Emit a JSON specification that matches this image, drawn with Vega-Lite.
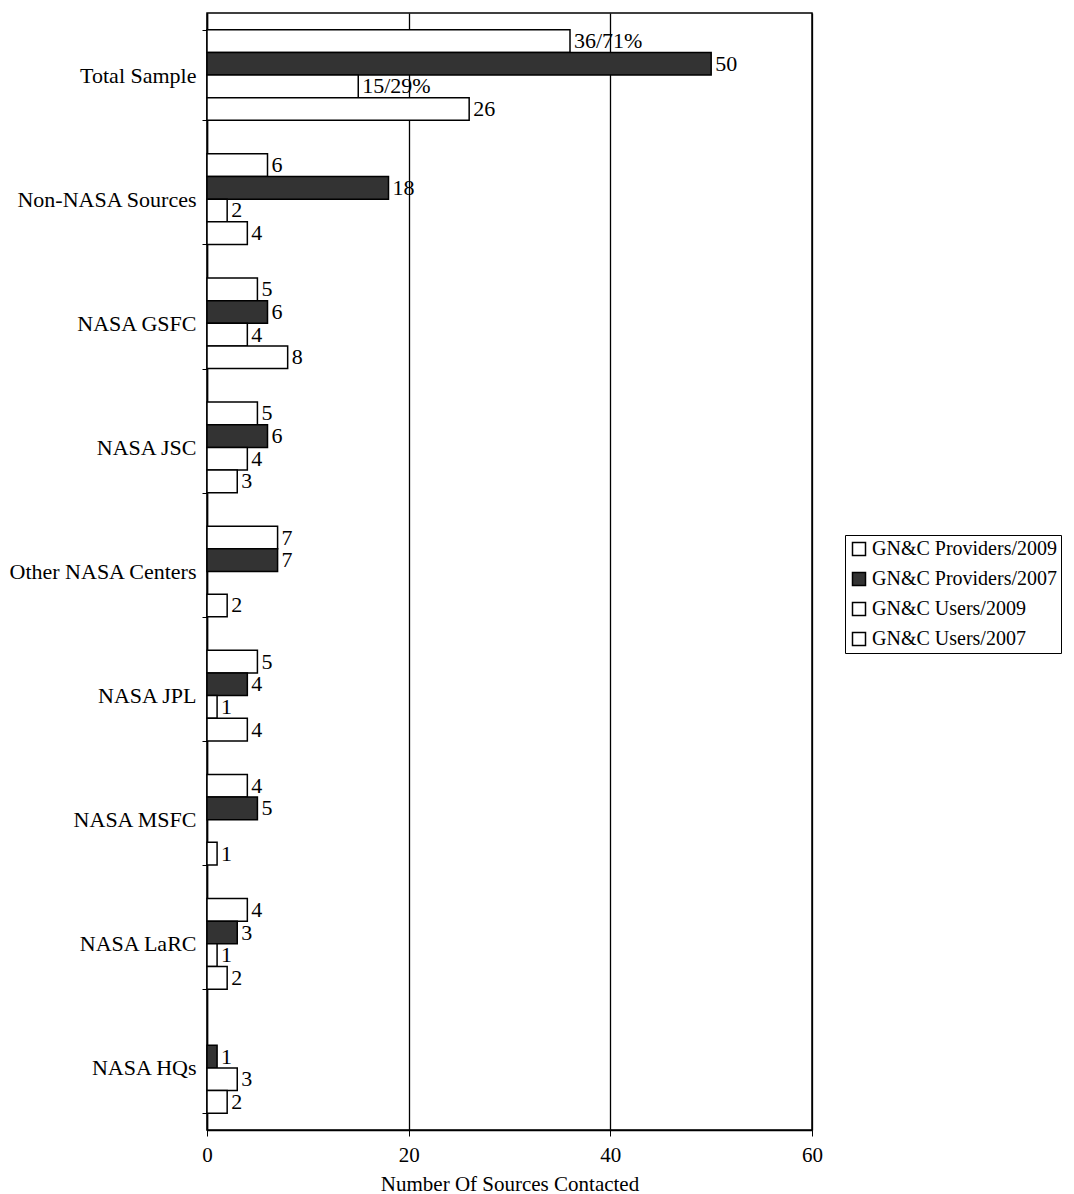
{
  "$schema": "https://vega.github.io/schema/vega-lite/v6.json",
  "width": 605,
  "height": 1117,
  "autosize": {"type": "none"},
  "padding": {"left": 207, "top": 13, "right": 262, "bottom": 64},
  "background": "white",
  "config": {
    "font": "Liberation Serif",
    "view": {"stroke": "black", "strokeWidth": 1.5},
    "axis": {"labelColor": "black", "titleColor": "black", "domainColor": "black", "tickColor": "black", "titleFontWeight": "normal"}
  },
  "data": {
    "values": [
      {"cat": "Total Sample", "series": "GN&C Providers/2009", "value": 36, "label": "36/71%"},
      {"cat": "Total Sample", "series": "GN&C Providers/2007", "value": 50, "label": "50"},
      {"cat": "Total Sample", "series": "GN&C Users/2009", "value": 15, "label": "15/29%"},
      {"cat": "Total Sample", "series": "GN&C Users/2007", "value": 26, "label": "26"},
      {"cat": "Non-NASA Sources", "series": "GN&C Providers/2009", "value": 6, "label": "6"},
      {"cat": "Non-NASA Sources", "series": "GN&C Providers/2007", "value": 18, "label": "18"},
      {"cat": "Non-NASA Sources", "series": "GN&C Users/2009", "value": 2, "label": "2"},
      {"cat": "Non-NASA Sources", "series": "GN&C Users/2007", "value": 4, "label": "4"},
      {"cat": "NASA GSFC", "series": "GN&C Providers/2009", "value": 5, "label": "5"},
      {"cat": "NASA GSFC", "series": "GN&C Providers/2007", "value": 6, "label": "6"},
      {"cat": "NASA GSFC", "series": "GN&C Users/2009", "value": 4, "label": "4"},
      {"cat": "NASA GSFC", "series": "GN&C Users/2007", "value": 8, "label": "8"},
      {"cat": "NASA JSC", "series": "GN&C Providers/2009", "value": 5, "label": "5"},
      {"cat": "NASA JSC", "series": "GN&C Providers/2007", "value": 6, "label": "6"},
      {"cat": "NASA JSC", "series": "GN&C Users/2009", "value": 4, "label": "4"},
      {"cat": "NASA JSC", "series": "GN&C Users/2007", "value": 3, "label": "3"},
      {"cat": "Other NASA Centers", "series": "GN&C Providers/2009", "value": 7, "label": "7"},
      {"cat": "Other NASA Centers", "series": "GN&C Providers/2007", "value": 7, "label": "7"},
      {"cat": "Other NASA Centers", "series": "GN&C Users/2007", "value": 2, "label": "2"},
      {"cat": "NASA JPL", "series": "GN&C Providers/2009", "value": 5, "label": "5"},
      {"cat": "NASA JPL", "series": "GN&C Providers/2007", "value": 4, "label": "4"},
      {"cat": "NASA JPL", "series": "GN&C Users/2009", "value": 1, "label": "1"},
      {"cat": "NASA JPL", "series": "GN&C Users/2007", "value": 4, "label": "4"},
      {"cat": "NASA MSFC", "series": "GN&C Providers/2009", "value": 4, "label": "4"},
      {"cat": "NASA MSFC", "series": "GN&C Providers/2007", "value": 5, "label": "5"},
      {"cat": "NASA MSFC", "series": "GN&C Users/2007", "value": 1, "label": "1"},
      {"cat": "NASA LaRC", "series": "GN&C Providers/2009", "value": 4, "label": "4"},
      {"cat": "NASA LaRC", "series": "GN&C Providers/2007", "value": 3, "label": "3"},
      {"cat": "NASA LaRC", "series": "GN&C Users/2009", "value": 1, "label": "1"},
      {"cat": "NASA LaRC", "series": "GN&C Users/2007", "value": 2, "label": "2"},
      {"cat": "NASA HQs", "series": "GN&C Providers/2007", "value": 1, "label": "1"},
      {"cat": "NASA HQs", "series": "GN&C Users/2009", "value": 3, "label": "3"},
      {"cat": "NASA HQs", "series": "GN&C Users/2007", "value": 2, "label": "2"}
    ]
  },
  "encoding": {
    "y": {
      "field": "cat", "type": "nominal",
      "sort": ["Total Sample", "Non-NASA Sources", "NASA GSFC", "NASA JSC", "Other NASA Centers", "NASA JPL", "NASA MSFC", "NASA LaRC", "NASA HQs"],
      "scale": {"paddingInner": 0.27, "paddingOuter": 0.135},
      "axis": {"title": null, "labelFontSize": 22, "labelPadding": 6, "tickBand": "extent", "tickSize": 5, "domainWidth": 1.5, "labelLimit": 300}
    },
    "yOffset": {
      "field": "series", "type": "nominal",
      "scale": {"domain": ["GN&C Providers/2009", "GN&C Providers/2007", "GN&C Users/2009", "GN&C Users/2007"], "paddingInner": 0, "paddingOuter": 0}
    },
    "x": {
      "field": "value", "type": "quantitative",
      "scale": {"domain": [0, 60], "nice": false},
      "axis": {"values": [0, 20, 40, 60], "grid": true, "gridColor": "black", "gridWidth": 1.3, "gridOpacity": 1, "tickSize": 6, "labelFontSize": 21, "labelPadding": 8, "labelFlush": false, "title": "Number Of Sources Contacted", "titleFontSize": 21, "titlePadding": 8, "domainWidth": 1.5}
    }
  },
  "layer": [
    {
      "mark": {"type": "bar", "stroke": "black", "strokeWidth": 1.5},
      "encoding": {
        "fill": {
          "field": "series", "type": "nominal",
          "scale": {"domain": ["GN&C Providers/2009", "GN&C Providers/2007", "GN&C Users/2009", "GN&C Users/2007"], "range": ["white", "#333333", "white", "white"]},
          "legend": {
            "title": null, "orient": "none", "legendX": 638, "legendY": 522,
            "strokeColor": "black", "padding": 4, "labelFontSize": 20, "labelColor": "black",
            "symbolType": "square", "symbolSize": 169, "symbolStrokeColor": "black", "symbolStrokeWidth": 1.5,
            "rowPadding": 10, "labelOffset": 3, "labelLimit": 400
          }
        }
      }
    },
    {
      "mark": {"type": "text", "align": "left", "baseline": "middle", "dx": 4, "fontSize": 22, "color": "black"},
      "encoding": {"text": {"field": "label"}}
    }
  ]
}
